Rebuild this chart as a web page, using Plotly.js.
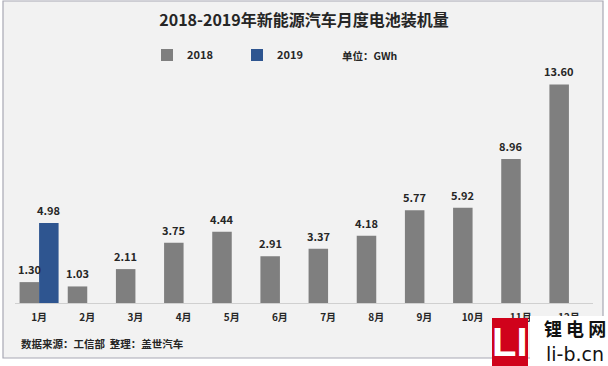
<!DOCTYPE html>
<html><head><meta charset="utf-8">
<script src="https://cdn.plot.ly/plotly-3.0.1.min.js"></script>
<style>html,body{margin:0;padding:0;background:#fff}#c{width:608px;height:366px}</style>
</head><body><div id="c"></div>
<script>
var months = ['1月','2月','3月','4月','5月','6月','7月','8月','9月','10月','11月','12月'];
var v2018 = [1.30, 1.03, 2.11, 3.75, 4.44, 2.91, 3.37, 4.18, 5.77, 5.92, 8.96, 13.60];
var v2019 = [4.98, null, null, null, null, null, null, null, null, null, null, null];
var seriesNames = ['2018', '2019'];

var W = 608, H = 366, ML = 15, MR = 15, MT = 70, MB = 63;
var PW = W - ML - MR, PH = H - MT - MB;
function px(x){ return (x - ML) / PW; }
function py(y){ return (H - MB - y) / PH; }

var F = '"Noto Sans CJK SC", "Noto Sans", sans-serif';
var dark = '#262626';

var traces = [
  {type:'bar', name:seriesNames[0], x:months, y:v2018, marker:{color:'#7f7f7f'}, hoverinfo:'none'},
  {type:'bar', name:seriesNames[1], x:months, y:v2019, marker:{color:'#2e5590'}, hoverinfo:'none'}
];

var barHalf = 9.8;
var ann = [];
v2018.forEach(function(v,i){
  ann.push({x:months[i], y:v, xref:'x', yref:'y', text:v.toFixed(2), showarrow:false,
    xshift:-barHalf, yshift:13, yanchor:'middle', font:{family:F, size:11, color:dark, weight:'bold'}});
});
v2019.forEach(function(v,i){
  if (v === null) return;
  ann.push({x:months[i], y:v, xref:'x', yref:'y', text:v.toFixed(2), showarrow:false,
    xshift:barHalf, yshift:13, yanchor:'middle', font:{family:F, size:11, color:dark, weight:'bold'}});
});
ann.push({xref:'paper', yref:'paper', x:px(340), y:py(55), xanchor:'left', yanchor:'middle', showarrow:false,
  text:'单位：GWh', font:{family:F, size:10.5, color:dark, weight:'bold'}});
ann.push({xref:'paper', yref:'paper', x:px(19), y:py(343), xanchor:'left', yanchor:'middle', showarrow:false,
  text:'数据来源：工信部  整理：盖世汽车', font:{family:F, size:10.5, color:dark, weight:'bold'}});
// logo
ann.push({xref:'paper', yref:'paper', x:px(510), y:py(342), xanchor:'center', yanchor:'middle', showarrow:false,
  text:'LI', font:{family:'"Liberation Sans", sans-serif', size:40, color:'#ffffff', weight:'bold'}});
ann.push({xref:'paper', yref:'paper', x:px(575), y:py(328), xanchor:'center', yanchor:'middle', showarrow:false,
  text:'锂 电 网', font:{family:F, size:18, color:'#111111', weight:'bold'}});
ann.push({xref:'paper', yref:'paper', x:px(575), y:py(354), xanchor:'center', yanchor:'middle', showarrow:false,
  text:'li-b.cn', font:{family:'"DejaVu Sans", sans-serif', size:19, color:'#111111'}});

var shapes = [
  {type:'rect', xref:'paper', yref:'paper', x0:px(3), x1:px(603), y0:py(358), y1:py(1), layer:'below',
   fillcolor:'#f2f2f2', line:{color:'#a8a8b4', width:1.2}},
  {type:'rect', xref:'paper', yref:'paper', x0:px(492), x1:px(528), y0:py(366), y1:py(318), layer:'above',
   fillcolor:'#d0021b', line:{width:0}},
  {type:'rect', xref:'paper', yref:'paper', x0:px(530), x1:px(608), y0:py(366), y1:py(316), layer:'above',
   fillcolor:'#ffffff', line:{width:0}}
];

var layout = {
  width:W, height:H, margin:{l:ML, r:MR, t:MT, b:MB},
  paper_bgcolor:'#ffffff', plot_bgcolor:'rgba(0,0,0,0)',
  title:{text:'2018-2019年新能源汽车月度电池装机量', x:0.5, xanchor:'center', y:1-20/H, yanchor:'middle',
    font:{family:F, size:16, color:dark, weight:'bold'}},
  barmode:'group', bargap:0.19, bargroupgap:0,
  xaxis:{type:'category', showline:true, linecolor:'#d0d0d0', linewidth:1, showgrid:false, zeroline:false,
    ticks:'', ticklabelstandoff:5, tickfont:{family:F, size:10, color:dark, weight:'bold'}, fixedrange:true},
  yaxis:{range:[0,14.5], visible:false, showgrid:false, zeroline:false, fixedrange:true},
  showlegend:true,
  legend:{orientation:'h', x:px(147), xanchor:'left', y:py(55), yanchor:'middle', bgcolor:'rgba(0,0,0,0)',
    entrywidth:45, entrywidthmode:'pixels', font:{family:F, size:11, color:dark, weight:'bold'}},
  annotations:ann, shapes:shapes
};
Plotly.newPlot('c', traces, layout, {staticPlot:true, displayModeBar:false});
</script></body></html>
